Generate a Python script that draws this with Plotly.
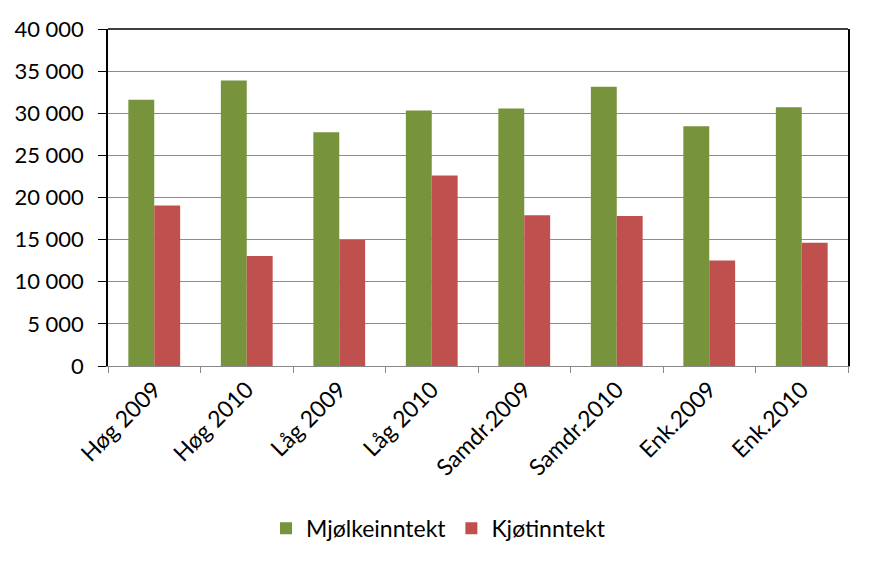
import plotly.graph_objects as go

categories = ["Høg 2009", "Høg 2010", "Låg 2009", "Låg 2010",
              "Samdr.2009", "Samdr.2010", "Enk.2009", "Enk.2010"]
mjolk = [31600, 33900, 27750, 30330, 30570, 33140, 28470, 30720]
kjot = [19060, 13050, 14950, 22600, 17900, 17800, 12530, 14630]
y_ticks = [0, 5000, 10000, 15000, 20000, 25000, 30000, 35000, 40000]
y_tick_labels = ["0", "5 000", "10 000", "15 000", "20 000", "25 000", "30 000", "35 000", "40 000"]

FONT = "Lato, 'Open Sans', sans-serif"

fig = go.Figure()
fig.add_trace(go.Bar(x=categories, y=mjolk, name="Mjølkeinntekt", marker=dict(color="#77933C", line=dict(width=0))))
fig.add_trace(go.Bar(x=categories, y=kjot, name="Kjøtinntekt", marker=dict(color="#C0504D", line=dict(width=0))))

fig.update_layout(
    width=877, height=568,
    margin=dict(l=108, r=29, t=29, b=202),
    paper_bgcolor="white", plot_bgcolor="white",
    barmode="group", bargap=0.44, bargroupgap=0,
    font=dict(family=FONT, size=22, color="#000000"),
    showlegend=True,
    legend=dict(orientation="h", xref="container", yref="container",
                x=0.5, xanchor="center", y=0.07, yanchor="middle",
                font=dict(size=23), itemwidth=30, tracegroupgap=0),
    shapes=[dict(type="line", xref="paper", yref="paper", x0=0, x1=1, y0=1, y1=1,
                 line=dict(color="#000000", width=1.5))],
)
fig.update_xaxes(
    type="category", tickangle=-45, showline=True, linecolor="#888888", linewidth=1,
    ticks="outside", tickson="boundaries", ticklen=6, tickcolor="#888888",
    showgrid=False, tickfont=dict(size=23),
)
fig.update_yaxes(
    range=[0, 40000], tickvals=y_ticks, ticktext=y_tick_labels,
    showline=True, linecolor="#000000", linewidth=1.5, mirror=True,
    ticks="outside", ticklen=8, tickcolor="#000000",
    showgrid=True, gridcolor="#8c8c8c", gridwidth=1,
    ticklabelstandoff=10, tickfont=dict(size=22), zeroline=False,
)

fig.write_html("out.html")
